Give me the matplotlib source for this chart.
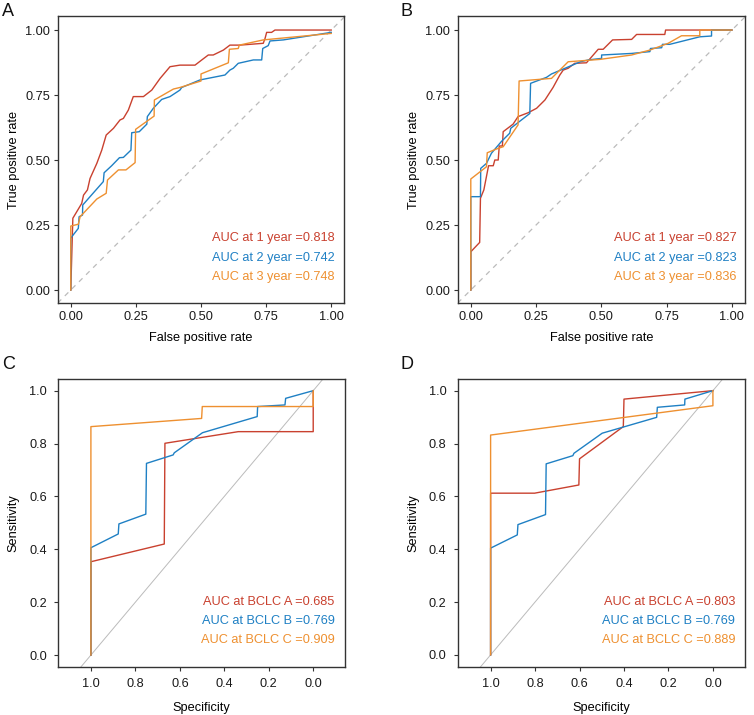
import matplotlib
matplotlib.use("Agg")
import matplotlib.pyplot as plt
from matplotlib.ticker import FixedLocator

plt.rcParams['font.family'] = ['Liberation Sans', 'DejaVu Sans']

RED = "#C9412F"
BLUE = "#1F80C4"
ORANGE = "#EE9030"

# ---------------- Panel A (time-dependent ROC, FPR vs TPR) ----------------
a1_fpr = [0, 0.008, 0.042, 0.049, 0.064, 0.074, 0.10, 0.119, 0.136, 0.164, 0.189, 0.202, 0.221, 0.240, 0.279, 0.311, 0.343, 0.381, 0.419, 0.477, 0.503, 0.528, 0.547, 0.586, 0.611, 0.650, 0.739, 0.746, 0.752, 0.771, 0.784, 1.0]
a1_tpr = [0, 0.276, 0.333, 0.365, 0.385, 0.429, 0.487, 0.538, 0.596, 0.622, 0.654, 0.660, 0.692, 0.744, 0.744, 0.769, 0.814, 0.859, 0.865, 0.865, 0.885, 0.904, 0.904, 0.923, 0.942, 0.942, 0.949, 0.968, 0.991, 0.991, 1.0, 1.0]
a2_fpr = [0, 0.0, 0.004, 0.029, 0.032, 0.045, 0.046, 0.074, 0.125, 0.128, 0.157, 0.187, 0.202, 0.231, 0.234, 0.263, 0.292, 0.294, 0.317, 0.349, 0.381, 0.419, 0.426, 0.496, 0.592, 0.611, 0.624, 0.643, 0.701, 0.733, 0.737, 0.758, 0.765, 0.816, 1.0]
a2_tpr = [0, 0.199, 0.205, 0.237, 0.282, 0.288, 0.327, 0.359, 0.417, 0.451, 0.478, 0.509, 0.510, 0.538, 0.605, 0.609, 0.638, 0.667, 0.699, 0.733, 0.744, 0.769, 0.779, 0.808, 0.827, 0.846, 0.853, 0.872, 0.885, 0.885, 0.929, 0.940, 0.958, 0.962, 0.991]
a3_fpr = [0, 0, 0.029, 0.036, 0.10, 0.136, 0.141, 0.183, 0.212, 0.247, 0.249, 0.320, 0.321, 0.394, 0.419, 0.5, 0.5, 0.605, 0.609, 0.643, 0.647, 0.739, 1.0]
a3_tpr = [0, 0.246, 0.253, 0.282, 0.35, 0.372, 0.423, 0.462, 0.462, 0.49, 0.618, 0.669, 0.731, 0.773, 0.779, 0.804, 0.831, 0.874, 0.926, 0.929, 0.942, 0.962, 0.987]
a_labels = ["AUC at 1 year =0.818", "AUC at 2 year =0.742", "AUC at 3 year =0.748"]

# ---------------- Panel B ----------------
b1_fpr = [0, 0, 0.034, 0.037, 0.050, 0.068, 0.086, 0.092, 0.105, 0.109, 0.121, 0.124, 0.162, 0.181, 0.220, 0.252, 0.284, 0.315, 0.341, 0.354, 0.373, 0.398, 0.443, 0.488, 0.507, 0.543, 0.616, 0.635, 0.743, 0.746, 1.0]
b1_tpr = [0, 0.147, 0.183, 0.353, 0.385, 0.478, 0.478, 0.5, 0.5, 0.554, 0.554, 0.609, 0.638, 0.667, 0.682, 0.699, 0.731, 0.779, 0.827, 0.846, 0.853, 0.872, 0.874, 0.926, 0.926, 0.962, 0.964, 0.983, 0.983, 1.0, 1.0]
b2_fpr = [0, 0, 0.037, 0.038, 0.060, 0.079, 0.117, 0.149, 0.153, 0.181, 0.226, 0.229, 0.290, 0.309, 0.420, 0.450, 0.501, 0.501, 0.616, 0.686, 0.688, 0.731, 0.734, 0.762, 0.877, 0.922, 0.922, 1.0]
b2_tpr = [0, 0.359, 0.359, 0.468, 0.487, 0.526, 0.571, 0.603, 0.622, 0.644, 0.679, 0.795, 0.818, 0.831, 0.878, 0.885, 0.891, 0.904, 0.910, 0.917, 0.929, 0.932, 0.945, 0.945, 0.974, 0.977, 1.0, 1.0]
b3_fpr = [0, 0, 0.060, 0.063, 0.105, 0.124, 0.181, 0.185, 0.309, 0.373, 0.494, 0.616, 0.686, 0.756, 0.807, 0.877, 0.877, 1.0]
b3_tpr = [0, 0.427, 0.474, 0.528, 0.545, 0.551, 0.635, 0.804, 0.814, 0.878, 0.887, 0.904, 0.923, 0.949, 0.978, 0.978, 1.0, 1.0]
b_labels = ["AUC at 1 year =0.827", "AUC at 2 year =0.823", "AUC at 3 year =0.836"]

# ---------------- Panel C (specificity vs sensitivity) ----------------
c1_spec = [1.0, 1.0, 0.670, 0.667, 0.337, 0.0, 0.0]
c1_sens = [0.0, 0.353, 0.420, 0.801, 0.845, 0.845, 1.0]
c2_spec = [1.0, 1.0, 0.877, 0.874, 0.753, 0.750, 0.630, 0.625, 0.498, 0.252, 0.250, 0.127, 0.124, 0.0]
c2_sens = [0.0, 0.406, 0.458, 0.496, 0.533, 0.725, 0.757, 0.765, 0.841, 0.902, 0.940, 0.946, 0.971, 1.0]
c3_spec = [1.0, 1.0, 0.502, 0.499, 0.0, 0.0]
c3_sens = [0.0, 0.864, 0.895, 0.940, 0.940, 1.0]
c_labels = ["AUC at BCLC A =0.685", "AUC at BCLC B =0.769", "AUC at BCLC C =0.909"]

# ---------------- Panel D ----------------
d1_spec = [1.0, 1.0, 0.802, 0.603, 0.600, 0.403, 0.400, 0.0]
d1_sens = [0.0, 0.612, 0.612, 0.643, 0.742, 0.864, 0.968, 1.0]
d2_spec = [1.0, 1.0, 0.880, 0.877, 0.753, 0.750, 0.630, 0.625, 0.498, 0.253, 0.250, 0.127, 0.126, 0.0]
d2_sens = [0.0, 0.404, 0.454, 0.493, 0.531, 0.723, 0.754, 0.763, 0.839, 0.899, 0.937, 0.946, 0.968, 1.0]
d3_spec = [1.0, 1.0, 0.0, 0.0]
d3_sens = [0.0, 0.832, 0.943, 1.0]
d_labels = ["AUC at BCLC A =0.803", "AUC at BCLC B =0.769", "AUC at BCLC C =0.889"]

tick_gg = [0.0, 0.25, 0.5, 0.75, 1.0]
tick_gg_lbl = ["0.00", "0.25", "0.50", "0.75", "1.00"]
tick_r = [0.0, 0.2, 0.4, 0.6, 0.8, 1.0]
tick_r_lbl = ["0.0", "0.2", "0.4", "0.6", "0.8", "1.0"]

W, H = 754, 715
fig = plt.figure(figsize=(W / 100, H / 100), dpi=100)

def ax_at(x0, y0, x1, y1):
    return fig.add_axes([x0 / W, 1 - y1 / H, (x1 - x0) / W, (y1 - y0) / H])

FS = 9.2
LW = 1.0

def style(ax):
    for s in ax.spines.values():
        s.set_linewidth(1.0)
        s.set_color("#333333")
    ax.tick_params(direction="out", length=3, width=0.8, color="#333333",
                   labelsize=FS, labelcolor="#1a1a1a", pad=2.5)

def add_labels(ax, labels, xr, ys):
    for lab, c, y in zip(labels, [RED, BLUE, ORANGE], ys):
        ax.text(xr, y, lab, transform=ax.transAxes, ha="right", va="center",
                color=c, fontsize=FS)

def gg_panel(ax, curves, labels, xr):
    ax.plot([-0.05, 1.05], [-0.05, 1.05], ls=(0, (4, 4)), color="#BBBBBB", lw=0.9, zorder=1)
    for (x, y), c in zip(curves, [RED, BLUE, ORANGE]):
        ax.plot(x, y, color=c, lw=LW, zorder=3)
    ax.set_xlim(-0.049, 1.049)
    ax.set_ylim(-0.05, 1.054)
    ax.xaxis.set_major_locator(FixedLocator(tick_gg))
    ax.yaxis.set_major_locator(FixedLocator(tick_gg))
    ax.set_xticklabels(tick_gg_lbl)
    ax.set_yticklabels(tick_gg_lbl)
    ax.set_xlabel("False positive rate", fontsize=FS, labelpad=7)
    ax.set_ylabel("True positive rate", fontsize=FS, labelpad=4)
    style(ax)
    add_labels(ax, labels, xr, [0.225, 0.158, 0.091])

def r_panel(ax, curves, labels, xr):
    ax.plot([1.2, -0.2], [-0.2, 1.2], color="#BBBBBB", lw=0.7, zorder=1)
    for (x, y), c in zip(curves, [RED, BLUE, ORANGE]):
        ax.plot(x, y, color=c, lw=LW, zorder=3)
    ax.set_xlim(1.148, -0.143)
    ax.set_ylim(-0.044, 1.043)
    ax.xaxis.set_major_locator(FixedLocator(tick_r))
    ax.yaxis.set_major_locator(FixedLocator(tick_r))
    ax.set_xticklabels(tick_r_lbl)
    ax.set_yticklabels(tick_r_lbl)
    ax.set_xlabel("Specificity", fontsize=FS, labelpad=9)
    ax.set_ylabel("Sensitivity", fontsize=FS, labelpad=7)
    style(ax)
    ax.tick_params(pad=5)
    add_labels(ax, labels, xr, [0.226, 0.160, 0.093])

axA = ax_at(58, 16, 344, 303)
gg_panel(axA, [(a1_fpr, a1_tpr), (a2_fpr, a2_tpr), (a3_fpr, a3_tpr)], a_labels, 0.966)
axB = ax_at(458, 16, 744.7, 303)
gg_panel(axB, [(b1_fpr, b1_tpr), (b2_fpr, b2_tpr), (b3_fpr, b3_tpr)], b_labels, 0.971)
axC = ax_at(58, 379.3, 345, 666.7)
r_panel(axC, [(c1_spec, c1_sens), (c2_spec, c2_sens), (c3_spec, c3_sens)], c_labels, 0.963)
axD = ax_at(457.7, 379.3, 744.7, 666.5)
r_panel(axD, [(d1_spec, d1_sens), (d2_spec, d2_sens), (d3_spec, d3_sens)], d_labels, 0.967)

for letter, x, y in [("A", 2, 3), ("B", 401, 3), ("C", 2, 356), ("D", 401, 356)]:
    fig.text(x / W, 1 - y / H, letter, fontsize=13, ha="left", va="top", color="#111111")

fig.savefig("out.png", dpi=100, facecolor="white")
